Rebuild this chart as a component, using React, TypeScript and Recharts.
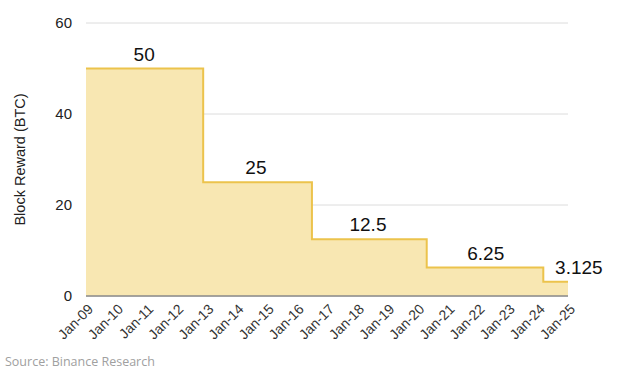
import React from "react";
import {
  ComposedChart,
  Area,
  XAxis,
  YAxis,
  CartesianGrid,
  ReferenceDot,
} from "recharts";

// Step dates (fractional years) and block reward at each step
const stepYears = [2009, 2012.89, 2016.5, 2020.31, 2024.18, 2025];
const rewards = [50, 25, 12.5, 6.25, 3.125, 3.125];

// Value labels
const labelYears = [2010.93, 2014.64, 2018.36, 2022.27, 2025.36];
const labelValues = [50, 25, 12.5, 6.25, 3.125];
const labelTexts = ["50", "25", "12.5", "6.25", "3.125"];

// X tick positions and labels
const tickYears = [
  2009, 2010, 2011, 2012, 2013, 2014, 2015, 2016, 2017, 2018, 2019, 2020,
  2021, 2022, 2023, 2024, 2025,
];
const tickLabels = [
  "Jan-09", "Jan-10", "Jan-11", "Jan-12", "Jan-13", "Jan-14", "Jan-15",
  "Jan-16", "Jan-17", "Jan-18", "Jan-19", "Jan-20", "Jan-21", "Jan-22",
  "Jan-23", "Jan-24", "Jan-25",
];
const yTicks = [0, 20, 40, 60];

const data = stepYears.map((x, i) => ({ x, reward: rewards[i] }));

const FONT = "'Liberation Sans', Arial, Helvetica, sans-serif";

const XTick = (props: any) => {
  const { x, y, payload } = props;
  const idx = tickYears.indexOf(payload.value);
  const label = idx >= 0 ? tickLabels[idx] : "";
  return (
    <g transform={`translate(${x + 8},${y + 6})`}>
      <text
        x={0}
        y={0}
        textAnchor="end"
        transform="rotate(-45)"
        fontSize={14}
        fontFamily={FONT}
        fill="#333"
      >
        {label}
      </text>
    </g>
  );
};

export default function App() {
  return (
    <div
      style={{
        position: "absolute",
        left: 0,
        top: 0,
        width: 626,
        height: 376,
        background: "#fff",
      }}
    >
      <ComposedChart
        width={626}
        height={376}
        data={data}
        margin={{ top: 23, right: 58, bottom: 30, left: 0 }}
      >
        <CartesianGrid vertical={false} stroke="#dcdcdc" strokeWidth={1} />
        <XAxis
          dataKey="x"
          type="number"
          domain={[2009, 2025]}
          ticks={tickYears}
          interval={0}
          tick={<XTick />}
          tickLine={false}
          axisLine={{ stroke: "#8a8a8a", strokeWidth: 1.5 }}
          height={50}
        />
        <YAxis
          type="number"
          domain={[0, 60]}
          ticks={yTicks}
          width={86}
          tickLine={false}
          axisLine={false}
          tickMargin={8}
          tick={{ fontSize: 15, fontFamily: FONT, fill: "#222" }}
          label={{
            value: "Block Reward (BTC)",
            angle: -90,
            position: "insideLeft",
            offset: 20,
            style: {
              textAnchor: "middle",
              fontSize: 14.5,
              fontFamily: FONT,
              fill: "#222",
            },
          }}
        />
        <Area
          type="stepAfter"
          dataKey="reward"
          stroke="#ecc34c"
          strokeWidth={2}
          fill="#f8e7b2"
          fillOpacity={1}
          isAnimationActive={false}
        />
        {labelYears.map((lx, i) => (
          <ReferenceDot
            key={i}
            x={lx}
            y={labelValues[i]}
            r={0}
            fill="none"
            stroke="none"
            ifOverflow="visible"
            label={{
              value: labelTexts[i],
              position: "top",
              offset: 8,
              fontSize: 19,
              fontFamily: FONT,
              fill: "#111",
            }}
          />
        ))}
      </ComposedChart>
      <div
        style={{
          position: "absolute",
          left: 5,
          top: 353,
          fontFamily: "'Open Sans', 'Noto Sans', sans-serif",
          fontSize: 12.5,
          color: "#a0a0a0",
          whiteSpace: "nowrap",
        }}
      >
        Source: Binance Research
      </div>
    </div>
  );
}
